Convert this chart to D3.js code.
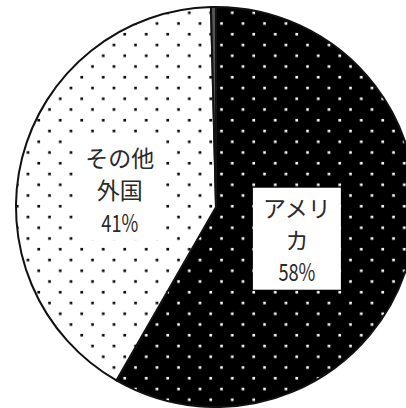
<!DOCTYPE html>
<html>
<head>
<meta charset="utf-8">
<script src="https://cdn.jsdelivr.net/npm/d3@7/dist/d3.min.js"></script>
<style>
  html, body { margin: 0; padding: 0; background: #fff; }
  svg { display: block; }
</style>
</head>
<body>
<div id="chart"></div>
<script>
// data (the thin slice at the top has no label)
const categories = ["アメリカ", "その他外国", ""];
const values = [58.3, 41.3, 0.4];
const labelLines = [["アメリ", "カ"], ["その他", "外国"], []];

const width = 406, height = 408;
const cx = 216, cy = 207, radius = 200;

const svg = d3.select("#chart").append("svg")
    .attr("width", width)
    .attr("height", height);

// dot patterns
const defs = svg.append("defs");
const tile = 21.5;
function dotPattern(id, bg, fg) {
    const p = defs.append("pattern")
        .attr("id", id)
        .attr("patternUnits", "userSpaceOnUse")
        .attr("width", tile)
        .attr("height", tile);
    p.append("rect").attr("width", tile).attr("height", tile).attr("fill", bg);
    [[5.5, 10], [16.25, 20.75], [16.25, -0.75]].forEach(([x, y]) => {
        p.append("rect")
            .attr("x", x - 1.3).attr("y", y - 1.3)
            .attr("width", 2.6).attr("height", 2.6)
            .attr("fill", fg);
    });
}
dotPattern("dotsDark", "#000", "#fff");
dotPattern("dotsLight", "#fff", "#000");
dotPattern("dotsGrey", "#555", "#ddd");
const fills = ["url(#dotsDark)", "url(#dotsLight)", "url(#dotsGrey)"];

const data = categories.map((c, i) => ({ name: c, value: values[i], lines: labelLines[i], i }));

const pie = d3.pie().sort(null).value(d => d.value);
const arc = d3.arc().innerRadius(0).outerRadius(radius);
const labelArc = d3.arc().innerRadius(radius * 0.46).outerRadius(radius * 0.46);

const g = svg.append("g").attr("transform", `translate(${cx},${cy})`);

const arcs = pie(data);

g.selectAll(".slice")
    .data(arcs)
    .join("path")
    .attr("class", "slice")
    .attr("d", arc)
    .attr("fill", d => fills[d.data.i])
    .attr("stroke", "#111")
    .attr("stroke-width", 2)
    .attr("stroke-linejoin", "round");

// label boxes
const boxW = 88, boxH = 102, lineH = 32;
const nudge = [[-8, 8], [-7, 5]]; // small shifts from the centroid

const labels = g.selectAll(".label")
    .data(arcs.filter(d => d.data.lines.length))
    .join("g")
    .attr("class", "label")
    .attr("transform", d => {
        const [x, y] = labelArc.centroid(d);
        const [dx, dy] = nudge[d.data.i];
        return `translate(${x + dx},${y + dy})`;
    });

labels.append("rect")
    .attr("x", -boxW / 2)
    .attr("y", -boxH / 2)
    .attr("width", boxW)
    .attr("height", boxH)
    .attr("fill", "#fff");

labels.each(function (d) {
    const lines = d.data.lines.concat([Math.round(d.data.value) + "%"]);
    const n = lines.length;
    d3.select(this).selectAll("text")
        .data(lines)
        .join("text")
        .attr("transform", (t, k) => {
            const y = (k - (n - 1) / 2) * lineH;
            // percent line is set in narrow figures
            return k === n - 1 ? `translate(0,${y}) scale(0.76,1)` : `translate(0,${y})`;
        })
        .attr("text-anchor", "middle")
        .attr("dominant-baseline", "central")
        .attr("font-family", "'Noto Sans CJK JP', 'Noto Sans', sans-serif")
        .attr("font-size", (t, k) => k === n - 1 ? 24 : 23)
        .attr("fill", "#2a2a2a")
        .text(t => t);
});
</script>
</body>
</html>
